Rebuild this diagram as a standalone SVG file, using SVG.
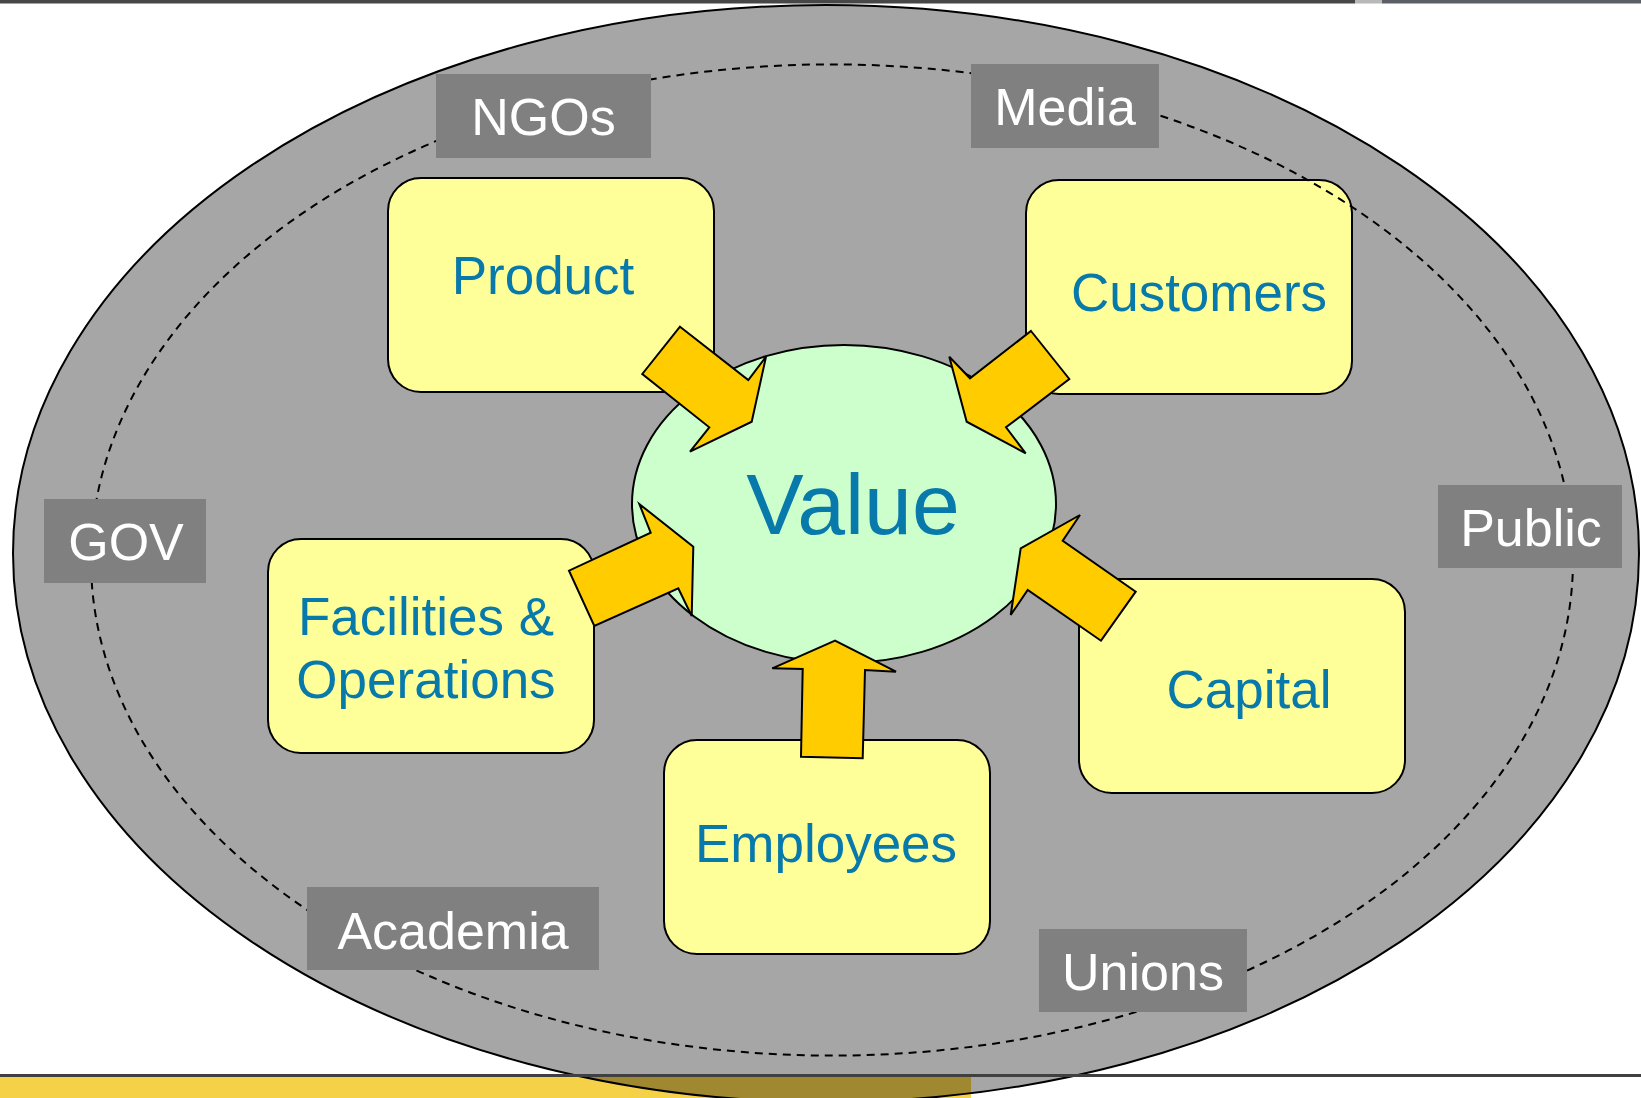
<svg xmlns="http://www.w3.org/2000/svg" width="1641" height="1098" viewBox="0 0 1641 1098">
<style>
.node rect{fill:#ffff99;stroke:#000;stroke-width:2}
.node text{font-family:"Liberation Sans",Arial,sans-serif;font-size:53px;fill:#0779ab;text-anchor:middle}
.lbl rect{fill:#808080}
.lbl text{font-family:"Liberation Sans",Arial,sans-serif;font-size:52px;fill:#fff;text-anchor:middle}
.arrow{fill:#ffcc00;stroke:#000;stroke-width:2;stroke-linejoin:miter}
</style>
<rect width="1641" height="1098" fill="#fff"/>
<rect x="0" y="0" width="1355" height="3.5" fill="#474747"/>
<rect x="1355" y="0" width="27" height="3.5" fill="#b8b8b8"/>
<rect x="1382" y="0" width="259" height="3.5" fill="#5c5f64"/>
<ellipse id="outer" cx="826" cy="553.5" rx="813" ry="548.5" fill="#a6a6a6" stroke="#000" stroke-width="2"/>
<rect x="0" y="1077" width="971" height="21" fill="#f5d148" style="mix-blend-mode:multiply"/>
<rect x="0" y="1074" width="1641" height="3" fill="#404040"/>
<g id="value" class="node">
<ellipse cx="844" cy="504" rx="212" ry="159" fill="#ccffcc" stroke="#000" stroke-width="2"/>
<text x="853" y="534" style="font-size:86px">Value</text>
</g>
<g id="product" class="node"><rect x="388" y="178" width="326" height="214" rx="33"/><text x="543" y="294">Product</text></g>
<g id="customers" class="node"><rect x="1026" y="180" width="326" height="214" rx="33"/><text x="1199" y="311">Customers</text></g>
<g id="facilities" class="node"><rect x="268" y="539" width="326" height="214" rx="33"/><text x="426" y="635">Facilities &amp;</text><text x="426" y="698">Operations</text></g>
<g id="employees" class="node"><rect x="664" y="740" width="326" height="214" rx="33"/><text x="826" y="862">Employees</text></g>
<g id="capital" class="node"><rect x="1079" y="579" width="326" height="214" rx="33"/><text x="1249" y="708">Capital</text></g>
<ellipse id="stakeholders" cx="832" cy="560" rx="741" ry="495.6" fill="none" stroke="#000" stroke-width="2" stroke-dasharray="8 6"/>
<g id="ngos" class="lbl"><rect x="436" y="74" width="215" height="84"/><text x="543.5" y="135">NGOs</text></g>
<g id="media" class="lbl"><rect x="971" y="64" width="188" height="84"/><text x="1065" y="125">Media</text></g>
<g id="gov" class="lbl"><rect x="44" y="499" width="162" height="84"/><text x="126" y="560">GOV</text></g>
<g id="public" class="lbl"><rect x="1438" y="485" width="184" height="83"/><text x="1531" y="546">Public</text></g>
<g id="academia" class="lbl"><rect x="307" y="887" width="292" height="83"/><text x="453" y="949">Academia</text></g>
<g id="unions" class="lbl"><rect x="1039" y="929" width="208" height="83"/><text x="1143" y="990">Unions</text></g>
<g id="connectors">
<polygon class="arrow" points="680,326.7 748.3,380 766,356.7 751.7,421.7 690,451.7 709.3,427.3 642.3,374"/>
<polygon class="arrow" points="1031,331 1069.3,379 1006,427.3 1025.7,453.3 966.7,421.7 949.3,356.7 970,378.3"/>
<polygon class="arrow" points="639.3,504 650.7,532.7 569,570.7 594.3,626 678.3,588.3 691.7,616 693.3,546.7"/>
<polygon class="arrow" points="1080,515 1062.7,540.7 1135.7,591.7 1101,640.7 1027.7,590 1010.7,615 1020.7,548.3"/>
<polygon class="arrow" points="835,640.7 772.3,668.3 802.7,669 801,756.7 862.7,758.3 865,670 896,671.7"/>
</g>
</svg>
